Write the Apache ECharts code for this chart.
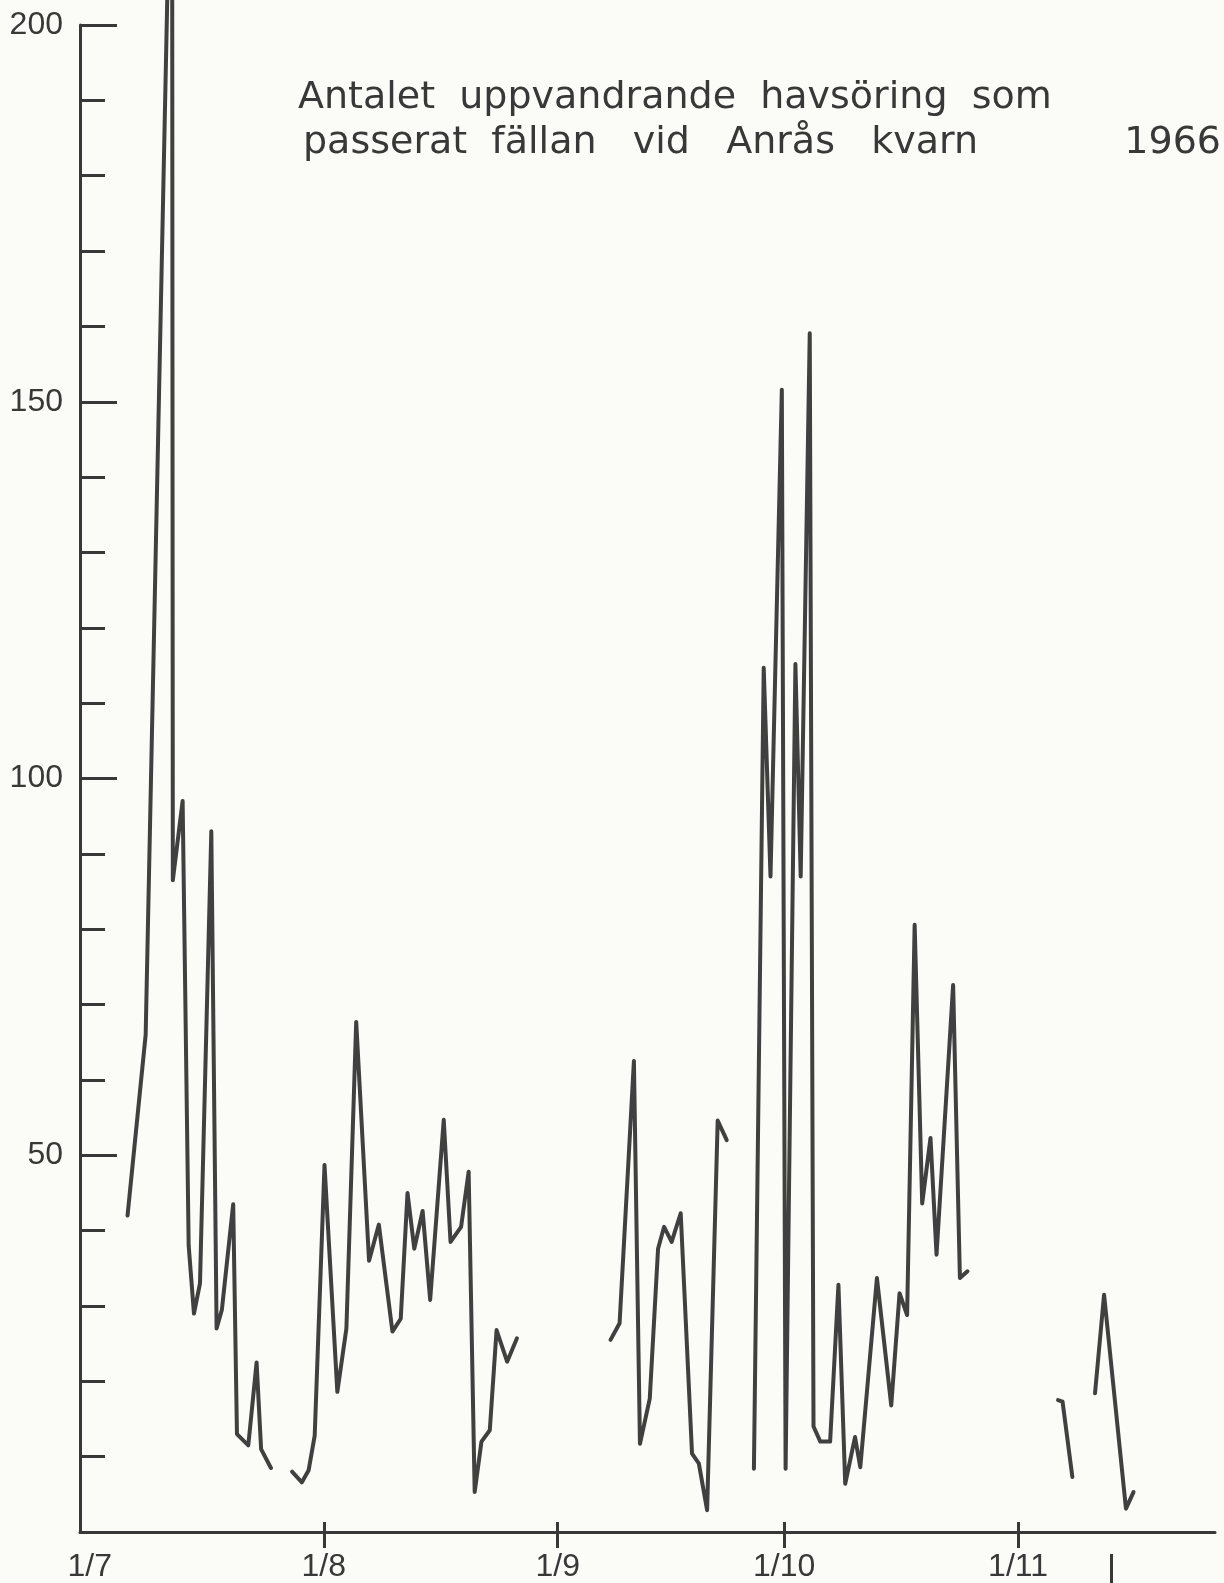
<!DOCTYPE html>
<html>
<head>
<meta charset="utf-8">
<script src="https://cdn.jsdelivr.net/npm/echarts@6/dist/echarts.min.js"></script>
<style>
html,body{margin:0;padding:0;background:#fbfbf8;}
#c{width:1224px;height:1583px;}
</style>
</head>
<body>
<div id="c"></div>
<script>
// Day index: 0 = 1 July 1966
const titleLine1 = 'Antalet  uppvandrande  havsöring  som';
const titleLine2 = 'passerat  fällan   vid   Anrås   kvarn';
const titleYear = '1966';

const monthDays = [0, 31, 62, 92, 123];
const monthLabels = ['1/7', '1/8', '1/9', '1/10', '1/11'];
const monthTickDays = [31, 62, 92, 123];
const markerDay = 135.3;

const yTicks = [0, 50, 100, 150, 200];

// Segment 1: early July
const seg1Days = [5.0, 7.4, 10.9, 11.0, 12.3, 13.1, 13.8, 14.6, 16.1, 16.8, 17.5, 19.0, 19.5, 21.0, 22.1, 22.7, 24.0];
const seg1Counts = [42, 66, 234, 86.5, 97, 38, 29, 33, 93, 27, 29.5, 43.5, 13, 11.5, 22.5, 11, 8.5];

// Segment 2: late July - August
const seg2Days = [26.8, 28.1, 29.0, 29.8, 31.1, 32.8, 34.0, 35.3, 37.0, 38.3, 40.1, 41.2, 42.1, 43.0, 44.1, 45.1, 46.9, 47.8, 49.2, 50.2, 51.0, 51.9, 53.0, 53.9, 55.3, 56.6];
const seg2Counts = [8, 6.6, 8.2, 12.8, 48.7, 18.6, 27, 67.7, 36, 40.8, 26.6, 28.3, 45, 37.6, 42.6, 30.8, 54.7, 38.5, 40.5, 47.8, 5.3, 12, 13.5, 26.8, 22.6, 25.7];

// Segment 3: September
const seg3Days = [69.0, 70.2, 72.1, 72.9, 74.2, 75.3, 76.1, 77.1, 78.3, 79.8, 80.7, 81.8, 83.2, 84.4];
const seg3Counts = [25.5, 27.7, 62.5, 11.7, 17.7, 37.6, 40.5, 38.5, 42.3, 10.4, 9.1, 2.9, 54.6, 52];

// Segment 4: late September - October
const seg4Days = [88.0, 89.3, 90.2, 91.7, 92.2, 93.5, 94.2, 95.4, 95.9, 96.8, 98.1, 99.2, 100.1, 101.4, 102.1, 104.3, 106.2, 107.3, 108.3, 109.3, 110.3, 111.4, 112.2, 114.4, 115.3, 116.3];
const seg4Counts = [8.4, 114.7, 87, 151.6, 8.4, 115.2, 87, 159.1, 14, 12, 12, 32.8, 6.4, 12.6, 8.6, 33.7, 16.8, 31.7, 28.8, 80.6, 43.6, 52.3, 36.8, 72.6, 33.7, 34.6];

// Segments 5 and 6: November
const seg5Days = [128.3, 128.9, 130.2];
const seg5Counts = [17.5, 17.3, 7.3];
const seg6Days = [133.2, 134.4, 137.3, 138.3];
const seg6Counts = [18.4, 31.5, 3.1, 5.3];

const segments = [
  [seg1Days, seg1Counts], [seg2Days, seg2Counts], [seg3Days, seg3Counts],
  [seg4Days, seg4Counts], [seg5Days, seg5Counts], [seg6Days, seg6Counts]
];

const ink = '#383838';
const titleFont = '"DejaVu Sans", sans-serif';
const axisFont = '"Liberation Sans", Arial, sans-serif';
const xMin = -1.3, xMax = 149.1;

const chart = echarts.init(document.getElementById('c'));
chart.setOption({
  backgroundColor: '#fbfbf8',
  animation: false,
  title: [
    { text: titleLine1, left: 298, top: 79, padding: 0,
      textStyle: { fontSize: 38, fontWeight: 'normal', color: ink, fontFamily: titleFont } },
    { text: titleLine2, left: 303, top: 124, padding: 0,
      textStyle: { fontSize: 38, fontWeight: 'normal', color: ink, fontFamily: titleFont } },
    { text: titleYear, right: 3, top: 124, padding: 0,
      textStyle: { fontSize: 38, fontWeight: 'normal', color: ink, fontFamily: titleFont } }
  ],
  grid: { left: 80, right: 9, top: 25, bottom: 51, containLabel: false, outerBoundsMode: 'none' },
  xAxis: [
    {
      type: 'value', min: xMin, max: xMax, position: 'bottom',
      axisLine: { show: true, onZero: false, lineStyle: { color: ink, width: 3 } },
      axisTick: { show: true, customValues: monthTickDays, inside: false, length: 16, lineStyle: { color: ink, width: 3 } },
      axisLabel: {
        show: true, customValues: monthDays, margin: 19,
        formatter: function (v) { const i = monthDays.indexOf(v); return i >= 0 ? monthLabels[i] : ''; },
        fontSize: 32, color: ink, fontFamily: axisFont
      },
      splitLine: { show: false }
    },
    {
      type: 'value', min: xMin, max: xMax, position: 'bottom',
      axisLine: { show: false },
      axisTick: { show: true, customValues: monthTickDays, inside: true, length: 10, lineStyle: { color: ink, width: 3 } },
      axisLabel: { show: false },
      splitLine: { show: false }
    },
    {
      type: 'value', min: xMin, max: xMax, position: 'bottom', offset: 22,
      axisLine: { show: false },
      axisTick: { show: true, customValues: [markerDay], inside: false, length: 34, lineStyle: { color: ink, width: 3 } },
      axisLabel: { show: false },
      splitLine: { show: false }
    }
  ],
  yAxis: {
    type: 'value', min: 0, max: 200, interval: 50,
    axisLine: { show: true, onZero: false, lineStyle: { color: ink, width: 3 } },
    axisTick: { show: true, inside: true, length: 37, lineStyle: { color: ink, width: 3 } },
    minorTick: { show: true, splitNumber: 5, length: 25, lineStyle: { color: ink, width: 3 } },
    axisLabel: {
      margin: 17, fontSize: 32, color: ink, fontFamily: axisFont,
      formatter: function (v) { return (yTicks.indexOf(v) > 0) ? String(v) : ''; }
    },
    splitLine: { show: false },
    minorSplitLine: { show: false }
  },
  series: segments.map(function (s) {
    return {
      type: 'line', xAxisIndex: 0, yAxisIndex: 0,
      data: s[0].map(function (d, i) { return [d, s[1][i]]; }),
      symbol: 'none', clip: false, silent: true,
      lineStyle: { color: '#404040', width: 4, join: 'round', cap: 'round' }
    };
  })
});
</script>
</body>
</html>
